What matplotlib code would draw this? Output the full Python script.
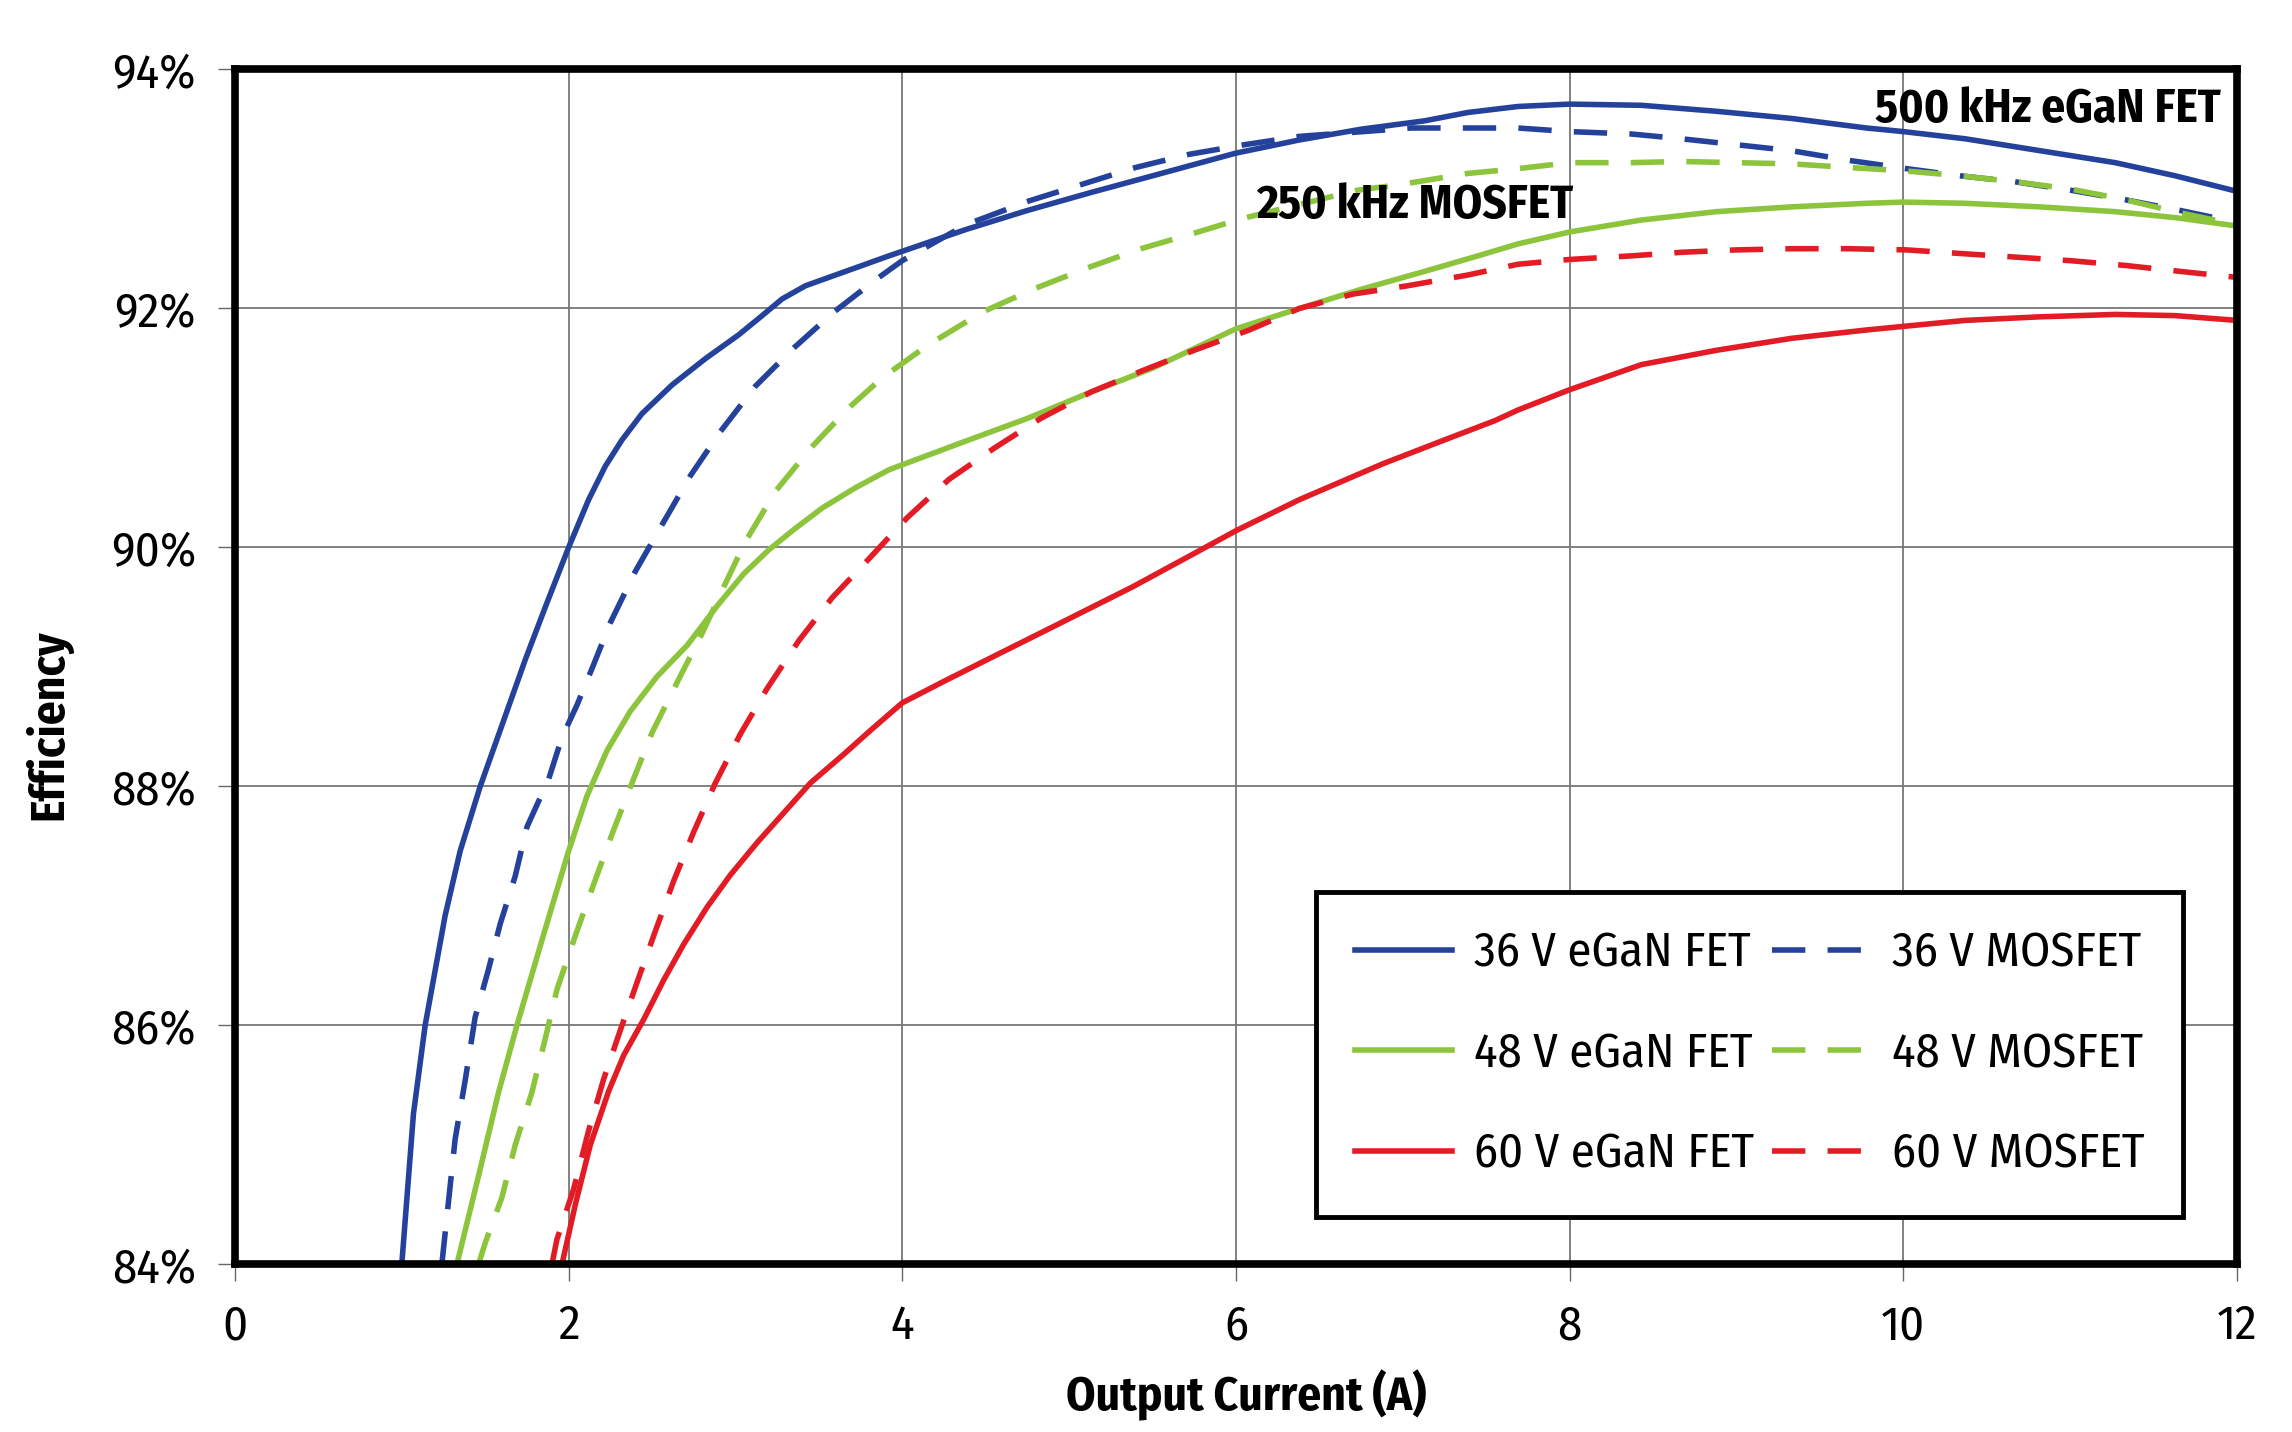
import matplotlib.pyplot as plt

plt.rcParams['font.family'] = ['Fira Sans Condensed', 'IBM Plex Sans Condensed', 'DejaVu Sans']

# output current (A) and efficiency (%)
x_36_egan = [1.0, 1.07, 1.14, 1.26, 1.35, 1.47, 1.60, 1.74, 1.86, 2.0, 2.12, 2.22, 2.32, 2.44, 2.62, 2.82,
             3.02, 3.16, 3.28, 3.42, 3.62, 3.92, 4.38, 4.75, 5.13, 5.5, 6.0, 6.38, 6.75, 7.13, 7.39, 7.69,
             8.0, 8.43, 8.88, 9.33, 9.78, 10.0, 10.37, 10.82, 11.27, 11.63, 12.0]
y_36_egan = [84.0, 85.26, 86.0, 86.92, 87.46, 88.0, 88.51, 89.06, 89.50, 90.0, 90.40, 90.68, 90.90, 91.12,
             91.36, 91.58, 91.78, 91.94, 92.08, 92.19, 92.29, 92.44, 92.66, 92.82, 92.97, 93.11, 93.30, 93.41,
             93.50, 93.57, 93.64, 93.69, 93.71, 93.70, 93.65, 93.59, 93.51, 93.48, 93.42, 93.32, 93.22, 93.11,
             92.98]

x_36_mos = [1.24, 1.32, 1.38, 1.44, 1.52, 1.59, 1.68, 1.75, 1.88, 1.96, 2.05, 2.15, 2.25, 2.40, 2.56, 2.73,
            2.91, 3.12, 3.35, 3.59, 3.84, 4.0, 4.38, 4.76, 5.08, 5.40, 5.72, 6.05, 6.38, 7.05, 7.39, 7.69,
            8.0, 8.37, 8.67, 9.0, 9.33, 9.67, 10.02, 10.34, 10.67, 11.0, 11.33, 11.66, 12.0]
y_36_mos = [84.0, 85.05, 85.54, 86.07, 86.47, 86.85, 87.25, 87.66, 88.06, 88.41, 88.68, 89.02, 89.37, 89.80,
            90.19, 90.60, 90.97, 91.35, 91.67, 91.97, 92.24, 92.40, 92.70, 92.90, 93.04, 93.18, 93.29, 93.37,
            93.44, 93.51, 93.51, 93.51, 93.48, 93.46, 93.42, 93.37, 93.32, 93.24, 93.17, 93.11, 93.06, 92.99,
            92.91, 92.82, 92.72]

x_48_egan = [1.33, 1.46, 1.58, 1.69, 1.85, 2.0, 2.11, 2.23, 2.37, 2.53, 2.71, 2.89, 3.05, 3.20, 3.35, 3.52,
             3.72, 3.92, 4.38, 4.75, 5.13, 5.5, 6.0, 6.38, 6.75, 7.13, 7.45, 7.69, 8.0, 8.43, 8.88, 9.33,
             9.78, 10.0, 10.37, 10.82, 11.27, 11.63, 12.0]
y_48_egan = [84.0, 84.74, 85.44, 86.0, 86.76, 87.46, 87.92, 88.30, 88.63, 88.92, 89.18, 89.51, 89.78, 89.98,
             90.15, 90.33, 90.50, 90.65, 90.89, 91.08, 91.30, 91.50, 91.83, 92.0, 92.16, 92.31, 92.44, 92.54,
             92.64, 92.74, 92.81, 92.85, 92.88, 92.89, 92.88, 92.85, 92.81, 92.76, 92.69]

x_48_mos = [1.46, 1.50, 1.60, 1.68, 1.78, 1.86, 1.93, 2.04, 2.15, 2.26, 2.38, 2.50, 2.65, 2.80, 2.93, 3.06,
            3.24, 3.45, 3.68, 3.88, 4.15, 4.48, 4.80, 5.13, 5.43, 5.75, 6.03, 6.73, 7.0, 7.39, 7.69, 8.0,
            8.37, 8.67, 9.0, 9.33, 9.67, 10.02, 10.34, 10.67, 11.0, 11.33, 11.66, 12.0]
y_48_mos = [84.0, 84.18, 84.56, 85.0, 85.44, 85.89, 86.30, 86.75, 87.18, 87.60, 88.03, 88.45, 88.87, 89.28,
            89.67, 90.05, 90.47, 90.83, 91.17, 91.42, 91.69, 91.97, 92.17, 92.35, 92.50, 92.63, 92.75, 92.99,
            93.04, 93.13, 93.17, 93.22, 93.22, 93.23, 93.22, 93.21, 93.18, 93.15, 93.11, 93.06, 93.0, 92.91,
            92.80, 92.70]

x_60_egan = [1.96, 2.04, 2.13, 2.24, 2.33, 2.45, 2.57, 2.69, 2.83, 2.97, 3.13, 3.29, 3.45, 3.65, 3.81, 4.0,
             4.25, 4.55, 4.88, 5.38, 5.75, 6.0, 6.38, 6.88, 7.25, 7.55, 7.69, 8.0, 8.43, 8.88, 9.33, 9.78,
             10.0, 10.37, 10.82, 11.27, 11.63, 12.0]
y_60_egan = [84.0, 84.5, 85.0, 85.45, 85.75, 86.05, 86.38, 86.68, 86.99, 87.26, 87.53, 87.78, 88.03, 88.27,
             88.47, 88.70, 88.88, 89.09, 89.32, 89.67, 89.95, 90.14, 90.40, 90.70, 90.90, 91.06, 91.15, 91.32,
             91.53, 91.65, 91.75, 91.82, 91.85, 91.90, 91.93, 91.95, 91.94, 91.90]

x_60_mos = [1.90, 1.93, 2.03, 2.12, 2.21, 2.30, 2.41, 2.52, 2.63, 2.75, 2.88, 3.03, 3.19, 3.38, 3.58, 3.79,
            4.03, 4.28, 4.55, 4.83, 5.13, 5.44, 5.75, 6.08, 6.38, 6.70, 7.03, 7.39, 7.69, 8.0, 8.37, 8.67,
            9.0, 9.33, 9.67, 10.02, 10.34, 10.67, 11.0, 11.33, 11.66, 12.0]
y_60_mos = [84.0, 84.21, 84.63, 85.12, 85.55, 85.92, 86.36, 86.79, 87.21, 87.62, 88.03, 88.44, 88.82, 89.22,
            89.58, 89.89, 90.25, 90.57, 90.83, 91.08, 91.30, 91.48, 91.65, 91.82, 92.0, 92.12, 92.19, 92.28,
            92.37, 92.41, 92.44, 92.47, 92.49, 92.50, 92.50, 92.49, 92.46, 92.43, 92.40, 92.36, 92.31, 92.26]

x_ticks = [0, 2, 4, 6, 8, 10, 12]
y_ticks = [84, 86, 88, 90, 92, 94]
y_ticklabels = ['84%', '86%', '88%', '90%', '92%', '94%']

blue = '#24429b'
green = '#8cc43c'
red = '#e31b25'
dash = (0, (6, 4))

fig = plt.figure(figsize=(22.92, 14.32), dpi=100)
ax = fig.add_axes([0.1025, 0.117, 0.8735, 0.8345])

lw = 4
ax.plot(x_36_egan, y_36_egan, color=blue, lw=lw, label='36 V eGaN FET')
ax.plot(x_48_egan, y_48_egan, color=green, lw=lw, label='48 V eGaN FET')
ax.plot(x_60_egan, y_60_egan, color=red, lw=lw, label='60 V eGaN FET')
ax.plot(x_36_mos, y_36_mos, color=blue, lw=lw, ls=dash, label='36 V MOSFET')
ax.plot(x_48_mos, y_48_mos, color=green, lw=lw, ls=dash, label='48 V MOSFET')
ax.plot(x_60_mos, y_60_mos, color=red, lw=lw, ls=dash, label='60 V MOSFET')

ax.set_xlim(0, 12)
ax.set_ylim(84, 94)
ax.set_xticks(x_ticks)
ax.set_yticks(y_ticks)
ax.set_yticklabels(y_ticklabels)
ax.tick_params(direction='out', length=12, width=1, color='#666666', labelsize=35, pad=16)
ax.grid(True, color='#777777', lw=1.3)
ax.set_axisbelow(True)
for s in ax.spines.values():
    s.set_linewidth(5.5)
    s.set_color('black')

ax.set_xlabel('Output Current (A)', fontsize=34, fontweight='bold')
ax.set_ylabel('Efficiency', fontsize=34, fontweight='bold')
ax.xaxis.set_label_coords(0.505, -0.088)
ax.yaxis.set_label_coords(-0.081, 0.452)

ax.text(11.9, 93.66, '500 kHz eGaN FET', fontsize=34, fontweight='bold', ha='right', va='center')
ax.text(6.12, 92.86, '250 kHz MOSFET', fontsize=34, fontweight='bold', ha='left', va='center')

leg = ax.legend(ncol=2, loc='lower left', bbox_to_anchor=(0.54, 0.04, 0.433, 0.27), mode='expand',
                fontsize=35, frameon=True, fancybox=False, edgecolor='black', framealpha=1,
                handlelength=2.0, handletextpad=0.45, columnspacing=1.6,
                labelspacing=1.12, borderpad=0.8, borderaxespad=0)
leg.get_frame().set_linewidth(3.5)

fig.savefig('out.png', dpi=100)
